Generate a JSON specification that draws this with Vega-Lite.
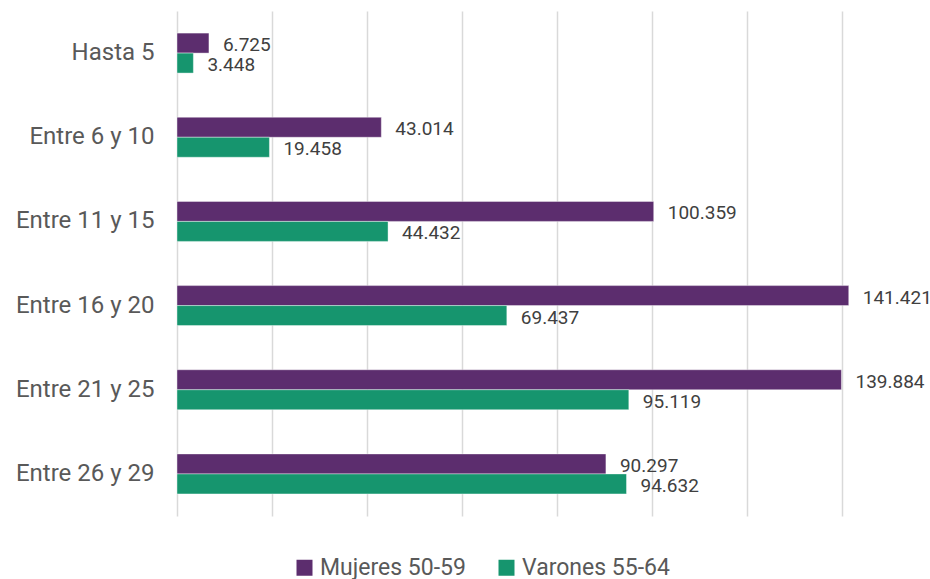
{
  "$schema": "https://vega.github.io/schema/vega-lite/v6.json",
  "width": 665,
  "height": 505,
  "autosize": "none",
  "padding": {"left": 177, "top": 11, "right": 88, "bottom": 63},
  "background": "white",
  "config": {
    "view": {"stroke": null},
    "font": "Roboto",
    "locale": {"number": {"decimal": ",", "thousands": ".", "grouping": [3], "currency": ["$", ""]}}
  },
  "data": {
    "values": [
      {"rango": "Hasta 5", "serie": "Mujeres 50-59", "valor": 6725},
      {"rango": "Hasta 5", "serie": "Varones 55-64", "valor": 3448},
      {"rango": "Entre 6 y 10", "serie": "Mujeres 50-59", "valor": 43014},
      {"rango": "Entre 6 y 10", "serie": "Varones 55-64", "valor": 19458},
      {"rango": "Entre 11 y 15", "serie": "Mujeres 50-59", "valor": 100359},
      {"rango": "Entre 11 y 15", "serie": "Varones 55-64", "valor": 44432},
      {"rango": "Entre 16 y 20", "serie": "Mujeres 50-59", "valor": 141421},
      {"rango": "Entre 16 y 20", "serie": "Varones 55-64", "valor": 69437},
      {"rango": "Entre 21 y 25", "serie": "Mujeres 50-59", "valor": 139884},
      {"rango": "Entre 21 y 25", "serie": "Varones 55-64", "valor": 95119},
      {"rango": "Entre 26 y 29", "serie": "Mujeres 50-59", "valor": 90297},
      {"rango": "Entre 26 y 29", "serie": "Varones 55-64", "valor": 94632}
    ]
  },
  "encoding": {
    "y": {
      "field": "rango",
      "type": "nominal",
      "sort": null,
      "title": null,
      "scale": {"paddingInner": 0.525, "paddingOuter": 0.2625},
      "axis": {
        "ticks": false,
        "domain": false,
        "labelPadding": 23,
        "labelFontSize": 24,
        "labelColor": "#595959",
        "labelFont": "Roboto"
      }
    },
    "yOffset": {"field": "serie", "type": "nominal", "sort": ["Mujeres 50-59", "Varones 55-64"]},
    "x": {
      "field": "valor",
      "type": "quantitative",
      "title": null,
      "scale": {"domain": [0, 140000], "nice": false},
      "axis": {
        "values": [0, 20000, 40000, 60000, 80000, 100000, 120000, 140000],
        "labels": false,
        "ticks": false,
        "domain": false,
        "grid": true,
        "gridColor": "#d9d9d9",
        "gridWidth": 1.5
      }
    }
  },
  "layer": [
    {
      "mark": {"type": "bar", "stroke": "#ffffff", "strokeOpacity": 0.4, "strokeWidth": 1},
      "encoding": {
        "color": {
          "field": "serie",
          "type": "nominal",
          "scale": {"domain": ["Mujeres 50-59", "Varones 55-64"], "range": ["#5c2d6e", "#16956e"]},
          "legend": {
            "title": null,
            "orient": "none",
            "direction": "horizontal",
            "legendX": 116,
            "legendY": 545,
            "symbolType": "square",
            "symbolSize": 256,
            "symbolStrokeWidth": 0,
            "labelFontSize": 23,
            "labelColor": "#595959",
            "labelFont": "Roboto",
            "labelOffset": 4,
            "columnPadding": 29
          }
        }
      }
    },
    {
      "mark": {"type": "text", "align": "left", "baseline": "middle", "dx": 14, "dy": 2, "fontSize": 19, "color": "#404040"},
      "encoding": {
        "text": {"field": "valor", "type": "quantitative", "format": ",d"}
      }
    }
  ]
}
